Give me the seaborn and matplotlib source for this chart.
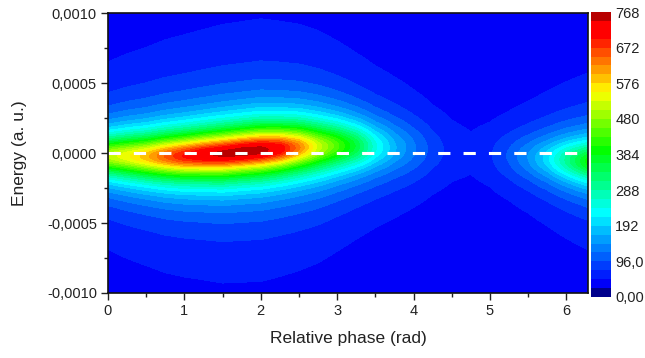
import numpy as np
import matplotlib
matplotlib.use("Agg")
import matplotlib.pyplot as plt
import seaborn as sns
from matplotlib.colors import ListedColormap, LinearSegmentedColormap
from matplotlib.ticker import MultipleLocator

# ---- data ----
# sampled relative phases (rad)
phase = [0.00, 0.25, 0.50, 0.75, 1.00, 1.25, 1.50, 1.75, 2.00, 2.25, 2.50, 2.75,
         3.00, 3.25, 3.50, 3.75, 4.00, 4.25, 4.50, 4.75, 5.00, 5.25, 5.50, 5.75,
         6.00, 6.2832]
# peak intensity at the line centre for each phase
peak = [510, 545, 590, 650, 700, 735, 755, 765, 760, 720, 630, 520,
        440, 355, 245, 172, 125, 85, 62, 55, 68, 100, 145, 205,
        295, 395]
# energy of the line centre (a.u.)
center = [-2.0e-5, -2.2e-5, -2.5e-5, -2.3e-5, -2.0e-5, -1.2e-5, -0.5e-5, 0.8e-5, 2.0e-5, 3.0e-5, 4.0e-5, 4.5e-5,
          5.0e-5, 5.0e-5, 4.5e-5, 4.0e-5, 3.2e-5, 2.4e-5, 1.5e-5, 0.0, -1.0e-5, -2.0e-5, -3.0e-5, -4.0e-5,
          -5.0e-5, -6.0e-5]
# line half width (a.u.)
width = [14.6e-5, 15.4e-5, 15.7e-5, 15.9e-5, 15.9e-5, 16.0e-5, 16.3e-5, 16.3e-5, 16.5e-5, 16.5e-5, 17.1e-5, 17.9e-5,
         17.8e-5, 17.8e-5, 19.3e-5, 21.2e-5, 22.5e-5, 24.6e-5, 27.5e-5, 26.8e-5, 24.2e-5, 20.8e-5, 19.0e-5, 18.0e-5,
         16.7e-5, 15.9e-5]
background = 26.0

x_ticks = [0, 1, 2, 3, 4, 5, 6]
y_ticks = [0.0010, 0.0005, 0.0, -0.0005, -0.0010]
y_ticklabels = ["0,0010", "0,0005", "0,0000", "-0,0005", "-0,0010"]
cbar_ticks = [0, 96, 192, 288, 384, 480, 576, 672, 768]
cbar_ticklabels = ["0,00", "96,0", "192", "288", "384", "480", "576", "672", "768"]

# ---- build the map ----
energy = np.linspace(-0.001, 0.001, 601)
P, E = np.meshgrid(np.array(phase), energy)
A = np.array(peak)[None, :]
C = np.array(center)[None, :]
W = np.array(width)[None, :]
field = background + (A - background) / (1.0 + ((E - C) / W) ** 2)

levels = np.arange(0, 769, 24)
nb = len(levels) - 1
anchors = [(0 / 31, (0.0, 0.0, 0.55)),
           (1 / 31, (0.0, 0.0, 0.99)),
           (9 / 31, (0.0, 1.0, 1.0)),
           (16 / 31, (0.0, 1.0, 0.0)),
           (22.5 / 31, (1.0, 1.0, 0.0)),
           (29 / 31, (1.0, 0.0, 0.0)),
           (30 / 31, (1.0, 0.0, 0.0)),
           (31 / 31, (0.72, 0.0, 0.0))]
base = LinearSegmentedColormap.from_list("origin_rainbow", anchors)
cmap = ListedColormap([base(i / (nb - 1)) for i in range(nb)])

sns.set_style("ticks")
plt.rcParams["font.family"] = ["Liberation Sans", "DejaVu Sans"]

fig = plt.figure(figsize=(6.45, 3.58), dpi=100)
ax = fig.add_axes([108 / 645, 1 - 293 / 358, 480 / 645, 280 / 358])
cax = fig.add_axes([591 / 645, 1 - 297 / 358, 20 / 645, 285 / 358])

cf = ax.contourf(P, E, field, levels=levels, cmap=cmap, vmin=0, vmax=768)
ax.axhline(0, color="white", lw=2.2, ls=(0, (4, 4.3)))

ax.set_xlim(0, 2 * np.pi)
ax.set_ylim(-0.001, 0.001)
ax.set_xticks(x_ticks)
ax.set_xticklabels([str(t) for t in x_ticks])
ax.set_yticks(y_ticks)
ax.set_yticklabels(y_ticklabels)
ax.xaxis.set_minor_locator(MultipleLocator(0.5))
ax.yaxis.set_minor_locator(MultipleLocator(0.00025))
ax.tick_params(which="major", direction="out", length=5, width=1, labelsize=10.5,
               color="#222222", labelcolor="#222222", pad=3)
ax.tick_params(which="minor", direction="out", length=3, width=1, color="#222222")
for s in ax.spines.values():
    s.set_color("#111111")
    s.set_linewidth(1.2)
ax.set_xlabel("Relative phase (rad)", fontsize=12.5, color="#222222", labelpad=9)
ax.set_ylabel("Energy (a. u.)", fontsize=12.5, color="#222222", labelpad=14)

cb = fig.colorbar(cf, cax=cax, ticks=cbar_ticks)
cb.set_ticklabels(cbar_ticklabels)
cb.ax.tick_params(length=0, labelsize=10.5, labelcolor="#222222", pad=3)
cb.outline.set_visible(False)

fig.savefig("out.png", dpi=100)
